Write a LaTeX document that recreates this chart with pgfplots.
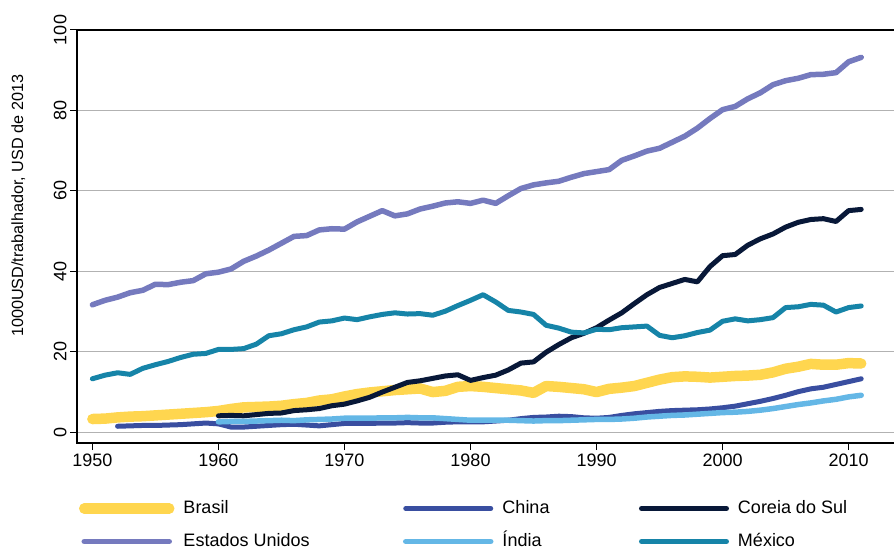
\documentclass[border=0pt]{standalone}
\usepackage{fontspec}
\setmainfont{Liberation Sans}
\usepackage{pgfplots}
\pgfplotsset{compat=1.18}
\definecolor{cBR}{RGB}{255,214,79}
\definecolor{cCN}{RGB}{57,78,160}
\definecolor{cKR}{RGB}{8,24,56}
\definecolor{cUS}{RGB}{117,122,190}
\definecolor{cIN}{RGB}{100,183,230}
\definecolor{cMX}{RGB}{22,132,168}
\newcommand{\ff}{\fontsize{18}{21}\selectfont}
\newcommand{\fl}{\fontsize{16.2}{19}\selectfont}
\begin{document}
\begin{tikzpicture}
\begin{axis}[
  name=ax,
  scale only axis, width=817pt, height=413pt,
  xmin=1948.78, xmax=2013.6, ymin=-2.66, ymax=100,
  clip=false,
  axis line style={draw=none},
  tick pos=left, tick align=outside,
  major tick length=7pt,
  tick style={black, line width=1pt},
  xtick={1950,1960,...,2010},
  ytick={0,20,...,100},
  ymajorgrids,
  grid style={line width=1pt, black!30},
  /pgf/number format/assume math mode=true,
  /pgf/number format/1000 sep={},
  tick label style={font=\ff},
  yticklabel style={rotate=90, anchor=south},
  ylabel={1000USD/trabalhador, USD de 2013},
  ylabel style={font=\fl, at={(axis description cs:-0.072,0.574)}, anchor=center},
  every axis plot/.append style={line join=round, line cap=round, no markers},
  legend columns=3,
  legend image code/.code={\draw[#1, line cap=round] (0pt,0pt) -- (85pt,0pt);},
  legend style={draw=none, fill=none, font=\ff,
    at={(0,0)}, anchor=north west, xshift=2pt, yshift=-57pt,
    inner sep=0pt, outer sep=0pt, row sep=16pt, column sep=0pt,
    nodes={inner sep=0pt, text height=13pt, text depth=4pt},
    /tikz/every odd column/.append style={column sep=9pt}},
]
% Brasil
\addplot[cBR, line width=10.5pt] coordinates {
(1950,3.3)(1951,3.4)(1952,3.7)(1953,3.9)(1954,4.0)(1955,4.2)(1956,4.4)(1957,4.6)(1958,4.8)(1959,5.0)
(1960,5.3)(1961,5.8)(1962,6.2)(1963,6.3)(1964,6.4)(1965,6.6)(1966,7.0)(1967,7.3)(1968,7.9)(1969,8.2)
(1970,8.9)(1971,9.5)(1972,9.9)(1973,10.2)(1974,10.5)(1975,10.7)(1976,10.9)(1977,10.0)(1978,10.3)(1979,11.3)
(1980,11.5)(1981,11.3)(1982,11.0)(1983,10.7)(1984,10.4)(1985,9.8)(1986,11.5)(1987,11.3)(1988,11.0)(1989,10.7)
(1990,10.0)(1991,10.8)(1992,11.1)(1993,11.5)(1994,12.3)(1995,13.1)(1996,13.7)(1997,13.9)(1998,13.8)(1999,13.6)
(2000,13.8)(2001,14.0)(2002,14.1)(2003,14.3)(2004,14.9)(2005,15.8)(2006,16.3)(2007,17.0)(2008,16.8)(2009,16.8)
(2010,17.2)(2011,17.1)};
\addlegendentry{\makebox[219.5pt][l]{Brasil}}
% China
\addplot[cCN, line width=5pt] coordinates {
(1952,1.5)(1953,1.6)(1954,1.7)(1955,1.7)(1956,1.8)(1957,1.9)(1958,2.1)(1959,2.3)
(1960,2.1)(1961,1.3)(1962,1.3)(1963,1.5)(1964,1.7)(1965,1.9)(1966,2.0)(1967,1.8)(1968,1.6)(1969,1.9)
(1970,2.2)(1971,2.2)(1972,2.2)(1973,2.3)(1974,2.3)(1975,2.4)(1976,2.3)(1977,2.3)(1978,2.5)(1979,2.6)
(1980,2.6)(1981,2.6)(1982,2.8)(1983,3.0)(1984,3.4)(1985,3.7)(1986,3.8)(1987,4.0)(1988,3.9)(1989,3.6)
(1990,3.5)(1991,3.7)(1992,4.2)(1993,4.6)(1994,4.9)(1995,5.2)(1996,5.4)(1997,5.5)(1998,5.6)(1999,5.8)
(2000,6.1)(2001,6.5)(2002,7.1)(2003,7.7)(2004,8.4)(2005,9.2)(2006,10.1)(2007,10.8)(2008,11.2)(2009,11.9)
(2010,12.6)(2011,13.3)};
\addlegendentry{\makebox[136.5pt][l]{China}}
% Coreia do Sul
\addplot[cKR, line width=5pt] coordinates {
(1960,4.1)(1961,4.2)(1962,4.1)(1963,4.4)(1964,4.7)(1965,4.8)(1966,5.4)(1967,5.6)(1968,5.9)(1969,6.6)
(1970,7.0)(1971,7.8)(1972,8.7)(1973,10.0)(1974,11.2)(1975,12.4)(1976,12.8)(1977,13.4)(1978,14.0)(1979,14.3)
(1980,12.9)(1981,13.6)(1982,14.2)(1983,15.5)(1984,17.2)(1985,17.5)(1986,19.9)(1987,21.8)(1988,23.5)(1989,24.6)
(1990,26.0)(1991,27.9)(1992,29.7)(1993,32.0)(1994,34.2)(1995,36.0)(1996,37.0)(1997,38.0)(1998,37.4)(1999,41.2)
(2000,43.9)(2001,44.2)(2002,46.5)(2003,48.1)(2004,49.3)(2005,51.0)(2006,52.2)(2007,52.9)(2008,53.1)(2009,52.4)
(2010,55.1)(2011,55.4)};
\addlegendentry{\makebox[130pt][l]{Coreia do Sul}}
% Estados Unidos
\addplot[cUS, line width=5.5pt] coordinates {
(1950,31.7)(1951,32.8)(1952,33.6)(1953,34.7)(1954,35.3)(1955,36.8)(1956,36.7)(1957,37.3)(1958,37.7)(1959,39.4)
(1960,39.8)(1961,40.6)(1962,42.5)(1963,43.8)(1964,45.3)(1965,47.0)(1966,48.7)(1967,48.9)(1968,50.3)(1969,50.6)
(1970,50.5)(1971,52.3)(1972,53.7)(1973,55.1)(1974,53.8)(1975,54.3)(1976,55.5)(1977,56.2)(1978,57.0)(1979,57.3)
(1980,56.9)(1981,57.7)(1982,56.9)(1983,58.8)(1984,60.6)(1985,61.5)(1986,62.0)(1987,62.4)(1988,63.4)(1989,64.3)
(1990,64.8)(1991,65.3)(1992,67.6)(1993,68.7)(1994,69.9)(1995,70.6)(1996,72.1)(1997,73.6)(1998,75.6)(1999,78.0)
(2000,80.2)(2001,81.0)(2002,82.9)(2003,84.4)(2004,86.4)(2005,87.4)(2006,88.0)(2007,88.9)(2008,89.0)(2009,89.4)
(2010,92.1)(2011,93.2)};
\addlegendentry{\makebox[219.5pt][l]{Estados Unidos}}
% India
\addplot[cIN, line width=5.5pt] coordinates {
(1960,2.6)(1961,2.7)(1962,2.7)(1963,2.8)(1964,2.9)(1965,3.0)(1966,2.9)(1967,3.1)(1968,3.2)(1969,3.3)
(1970,3.5)(1971,3.5)(1972,3.5)(1973,3.6)(1974,3.6)(1975,3.7)(1976,3.6)(1977,3.6)(1978,3.4)(1979,3.2)
(1980,3.0)(1981,3.0)(1982,3.0)(1983,3.0)(1984,2.9)(1985,2.8)(1986,2.9)(1987,2.9)(1988,3.0)(1989,3.1)
(1990,3.2)(1991,3.2)(1992,3.3)(1993,3.5)(1994,3.8)(1995,4.0)(1996,4.2)(1997,4.3)(1998,4.5)(1999,4.7)
(2000,4.9)(2001,5.0)(2002,5.2)(2003,5.5)(2004,5.9)(2005,6.4)(2006,6.9)(2007,7.3)(2008,7.8)(2009,8.2)
(2010,8.8)(2011,9.2)};
\addlegendentry{\makebox[136.5pt][l]{Índia}}
% Mexico
\addplot[cMX, line width=5pt] coordinates {
(1950,13.3)(1951,14.2)(1952,14.8)(1953,14.4)(1954,15.9)(1955,16.8)(1956,17.6)(1957,18.6)(1958,19.4)(1959,19.6)
(1960,20.6)(1961,20.6)(1962,20.8)(1963,21.9)(1964,24.0)(1965,24.5)(1966,25.5)(1967,26.2)(1968,27.4)(1969,27.7)
(1970,28.4)(1971,28.0)(1972,28.7)(1973,29.3)(1974,29.7)(1975,29.4)(1976,29.5)(1977,29.1)(1978,30.1)(1979,31.5)
(1980,32.8)(1981,34.2)(1982,32.4)(1983,30.3)(1984,29.9)(1985,29.3)(1986,26.6)(1987,25.9)(1988,24.9)(1989,24.7)
(1990,25.6)(1991,25.5)(1992,26.0)(1993,26.2)(1994,26.4)(1995,24.1)(1996,23.5)(1997,24.0)(1998,24.8)(1999,25.4)
(2000,27.6)(2001,28.2)(2002,27.7)(2003,28.0)(2004,28.5)(2005,31.0)(2006,31.2)(2007,31.8)(2008,31.6)(2009,29.9)
(2010,31.0)(2011,31.4)};
\addlegendentry{\makebox[130pt][l]{México}}
\draw[line width=1.2pt] (rel axis cs:1,1) -- (rel axis cs:0,1) -- (rel axis cs:0,0) -- (rel axis cs:1,0);
\end{axis}
\pgfresetboundingbox
\path (ax.south west) ++(-77pt,-106pt) rectangle ++(894pt,549pt);
\end{tikzpicture}
\end{document}
